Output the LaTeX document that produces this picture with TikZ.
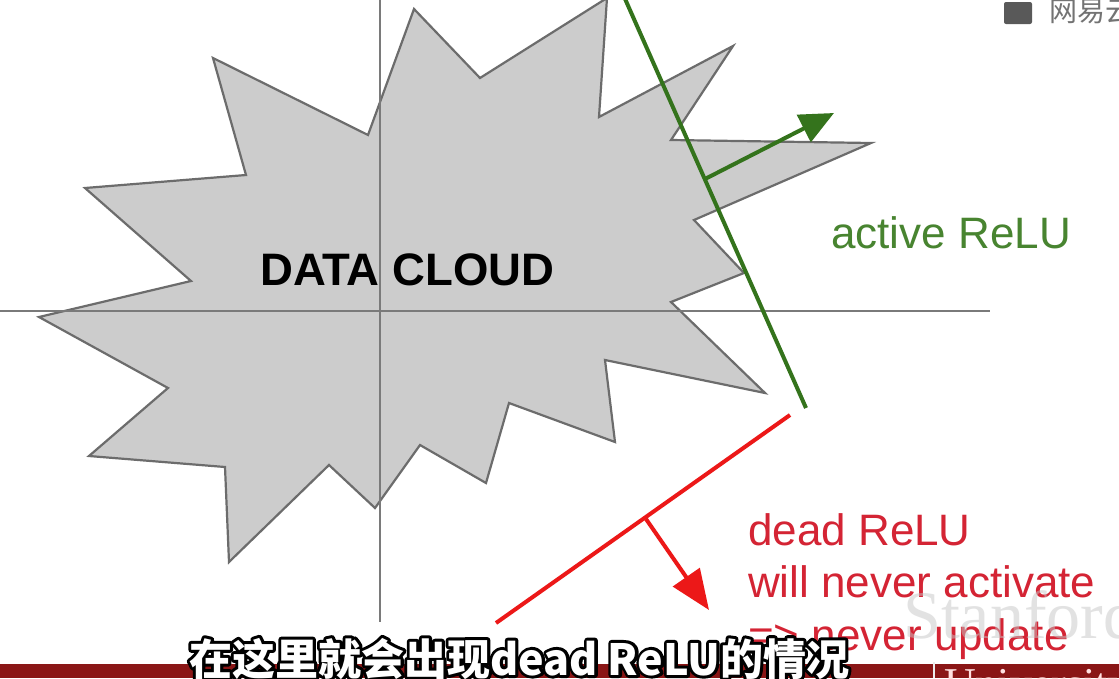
\documentclass[tikz,border=0pt]{standalone}
\usepackage{fontspec}
\setmainfont{Liberation Sans}
\newfontfamily\cjk{Noto Sans CJK SC}
\newfontfamily\serifwm{Liberation Serif}
\usetikzlibrary{arrows.meta}
\definecolor{gline}{RGB}{52,115,28}
\definecolor{gtext}{RGB}{72,132,48}
\definecolor{rline}{RGB}{236,24,24}
\definecolor{rtext}{RGB}{212,36,52}
\definecolor{cloudfill}{RGB}{204,204,204}
\definecolor{cloudedge}{RGB}{108,108,108}
\definecolor{axisgrey}{RGB}{122,122,122}
\definecolor{barred}{RGB}{138,22,22}
\newcommand{\outlinedtext}[1]{\rlap{\color{black}\special{pdf:literal direct 0 0 0 RG 6 w 1 j 2 Tr}#1\special{pdf:literal direct 0 Tr 1 w}}#1}
\tikzset{
  cloud/.style={fill=cloudfill, draw=cloudedge, line width=2.2pt, line join=miter},
  axisline/.style={draw=axisgrey, line width=2pt},
  greenrelu/.style={draw=gline, line width=4pt},
  redrelu/.style={draw=rline, line width=4pt},
  greenarrow/.style={draw=gline, line width=4pt, -{Triangle[length=34pt,width=30pt]}},
  redarrow/.style={draw=rline, line width=4pt, -{Triangle[length=40pt,width=32pt]}},
  lbl/.style={inner sep=0pt, anchor=base west, font=\fontsize{44}{53}\selectfont},
}
\begin{document}
\begin{tikzpicture}[x=1pt, y=-1pt]
\useasboundingbox (0,0) rectangle (1119,678);
\clip (0,0) rectangle (1119,678);
\fill[white] (0,0) rectangle (1119,678);
% data cloud
\draw[cloud] (414,9) -- (480,78) -- (607,-2) -- (599,117) -- (733,46) -- (671,140)
  -- (871,143) -- (694,220) -- (744,273) -- (671,302) -- (765,393) -- (605,360)
  -- (615,442) -- (509,403) -- (486,483) -- (420,445) -- (375,508) -- (329,465)
  -- (229,562) -- (225,467) -- (89,456) -- (168,388) -- (39,317) -- (191,281)
  -- (85,188) -- (246,175) -- (213,58) -- (368,135) -- cycle;
\node[lbl, font=\fontsize{45.5}{53}\selectfont\bfseries] (dc) at (260,285) {DATA CLOUD};
% axes
\coordinate (xl) at (0,311);
\coordinate (xr) at (990,311);
\coordinate (yt) at (380,0);
\coordinate (yb) at (380,622);
\draw[axisline] (xl) -- (xr);
\draw[axisline] (yt) -- (yb);
% active ReLU
\coordinate (ga) at (622,-8);
\coordinate (gb) at (806,408);
\draw[greenrelu] (ga) -- (gb);
\coordinate (gbase) at (705,179);
\coordinate (gtip) at (834,113);
\draw[greenarrow] (gbase) -- (gtip);
\node[lbl, text=gtext] (act) at (831,248) {active ReLU};
% dead ReLU
\coordinate (ra) at (790,415);
\coordinate (rb) at (496,623);
\draw[redrelu] (ra) -- (rb);
\coordinate (rbase) at (646,519);
\coordinate (rtip) at (709,610);
\draw[redarrow] (rbase) -- (rtip);
\node[lbl, text=rtext] (d1) at (748,545) {dead ReLU};
\node[lbl, text=rtext] (d2) at (748,597) {will never activate};
\node[lbl, text=rtext] (d3) at (748,650) {=> never update};
% video overlays
\node[inner sep=0pt, anchor=base west, text=gray!45, opacity=0.5, font=\serifwm\fontsize{68}{70}\selectfont] (stan) at (903,638) {Stanford};
\fill[barred] (0,664) rectangle (1119,678);
\draw[white!85!gray, line width=1.5pt] (934,662) -- (934,678);
\node[inner sep=0pt, anchor=base west, text=white!88!red, font=\serifwm\fontsize{44}{48}\selectfont] (univ) at (944,698) {University};
\node[inner sep=0pt, anchor=base west, text=white, font=\cjk\bfseries\fontsize{43}{48}\selectfont] (sub) at (189,675) {\outlinedtext{在这里就会出现dead ReLU的情况}};
\fill[gray!70!black, rounded corners=2pt] (1004,2) rectangle (1032,24);
\node[inner sep=0pt, anchor=base west, text=gray!90!black, font=\cjk\fontsize{28}{30}\selectfont] (logo) at (1049,21) {网易云课堂};
\end{tikzpicture}
\end{document}
